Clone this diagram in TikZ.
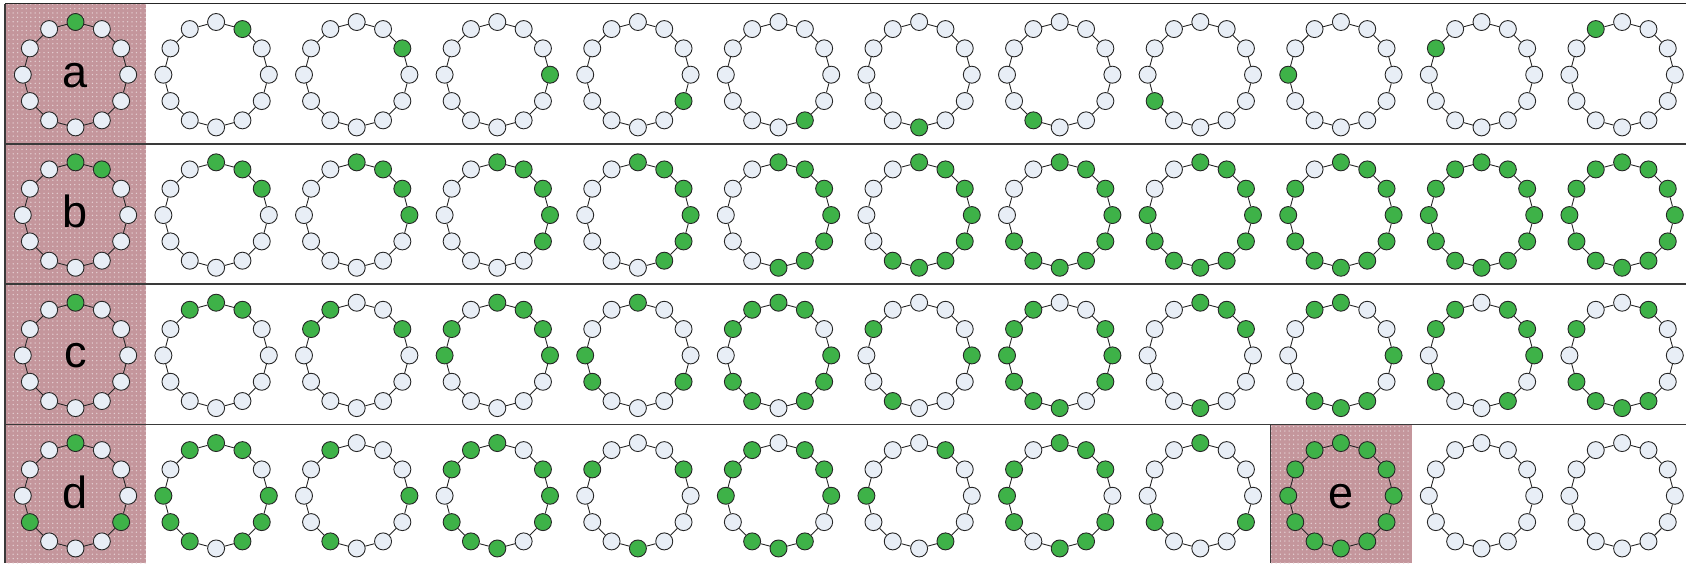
\documentclass[tikz,border=0pt]{standalone}
\usepackage{fontspec}
\setmainfont{Liberation Sans}
\usetikzlibrary{patterns.meta}
\definecolor{pinkbg}{RGB}{196,150,156}
\definecolor{pinkdot}{RGB}{228,208,211}
\definecolor{nodefill}{RGB}{232,238,246}
\definecolor{greenfill}{RGB}{62,178,72}
\definecolor{gridline}{RGB}{58,58,58}
\tikzdeclarepattern{
  name=pinkdots,
  type=uncolored,
  bounding box={(-2.2pt,-2.2pt) and (2.2pt,2.2pt)},
  tile size={(4.4pt,4.4pt)},
  code={\fill (0pt,0pt) circle[radius=0.75pt];}
}
\newcommand\ringcell[4]{%
  \pgfmathsetmacro\cx{75.5+140.6*(#2-1)}%
  \pgfmathsetmacro\cy{74.7+140.35*(#1-1)}%
  \def\greens{#3}%
  \foreach \k in {0,...,11}{%
    \gdef\ncls{whitenode}%
    \foreach \g in \greens {\ifnum\g=\k\relax\gdef\ncls{greennode}\fi}%
    \pgfmathsetmacro\ang{-90+30*\k}%
    \path (\cx,\cy) ++(\ang:52.7) node[\ncls] (n-#1-#2-\k) {};
  }%
  \foreach \k [evaluate=\k as \kn using {int(mod(\k+1,12))}] in {0,...,11}{%
    \draw[ringedge] (n-#1-#2-\k) -- (n-#1-#2-\kn);
  }%
  \ifx\relax#4\relax\else
    \node[letter] (lab-#1-#2) at (\cx,\cy+12.3) {#4};
  \fi
}
\begin{document}
\begin{tikzpicture}[x=1pt,y=-1pt,
  ringnode/.style={circle,draw=black!85,line width=0.9pt,minimum size=17pt,inner sep=0pt},
  whitenode/.style={ringnode,fill=nodefill},
  greennode/.style={ringnode,fill=greenfill},
  ringedge/.style={draw=black!85,line width=0.9pt},
  pinkcell/.style={fill=pinkbg,postaction={pattern=pinkdots,pattern color=pinkdot}},
  gridrule/.style={draw=gridline,line width=1.5pt},
  letter/.style={font=\fontsize{45}{50}\selectfont,text=black,anchor=base,inner sep=0pt}
]
\useasboundingbox (0,0) rectangle (1686,563);
% pink cells
\path[pinkcell] (5,3.5) rectangle (146.2,144);
\path[pinkcell] (5,144) rectangle (146.2,284);
\path[pinkcell] (5,284) rectangle (146.2,424.3);
\path[pinkcell] (5,424.3) rectangle (146.2,563);
\path[pinkcell] (1270.5,424.3) rectangle (1411.6,563);
% grid rules
\draw[gridrule,draw=black!85] (5,3.5) -- (1686,3.5);
\draw[gridrule] (5,144) -- (1686,144);
\draw[gridrule] (5,284) -- (1686,284);
\draw[gridrule] (5,424.3) -- (1686,424.3);
\draw[gridrule] (5,3.5) -- (5,563);
\draw[gridrule] (1270.5,424.3) -- (1270.5,563);
% row 1
\ringcell{1}{1}{0}{a}
\ringcell{1}{2}{1}{}
\ringcell{1}{3}{2}{}
\ringcell{1}{4}{3}{}
\ringcell{1}{5}{4}{}
\ringcell{1}{6}{5}{}
\ringcell{1}{7}{6}{}
\ringcell{1}{8}{7}{}
\ringcell{1}{9}{8}{}
\ringcell{1}{10}{9}{}
\ringcell{1}{11}{10}{}
\ringcell{1}{12}{11}{}
% row 2
\ringcell{2}{1}{0,1}{b}
\ringcell{2}{2}{0,1,2}{}
\ringcell{2}{3}{0,1,2,3}{}
\ringcell{2}{4}{0,1,2,3,4}{}
\ringcell{2}{5}{0,1,2,3,4,5}{}
\ringcell{2}{6}{0,1,2,3,4,5,6}{}
\ringcell{2}{7}{0,1,2,3,4,5,6,7}{}
\ringcell{2}{8}{0,1,2,3,4,5,6,7,8}{}
\ringcell{2}{9}{0,1,2,3,4,5,6,7,8,9}{}
\ringcell{2}{10}{0,1,2,3,4,5,6,7,8,9,10}{}
\ringcell{2}{11}{0,1,2,3,4,5,6,7,8,9,10,11}{}
\ringcell{2}{12}{0,1,2,3,4,5,6,7,8,9,10,11}{}
% row 3
\ringcell{3}{1}{0}{c}
\ringcell{3}{2}{11,0,1}{}
\ringcell{3}{3}{10,11,2}{}
\ringcell{3}{4}{0,1,2,3,9,10}{}
\ringcell{3}{5}{0,4,8,9}{}
\ringcell{3}{6}{0,1,3,4,5,7,8,10,11}{}
\ringcell{3}{7}{3,7,10}{}
\ringcell{3}{8}{2,3,4,6,7,8,9,10,11}{}
\ringcell{3}{9}{0,1,2,6}{}
\ringcell{3}{10}{0,3,5,6,7,11}{}
\ringcell{3}{11}{1,2,3,5,8,10,11}{}
\ringcell{3}{12}{1,5,6,7,8,10}{}
% row 4
\ringcell{4}{1}{0,4,8}{d}
\ringcell{4}{2}{0,1,3,4,5,7,8,9,11}{}
\ringcell{4}{3}{3,7,11}{}
\ringcell{4}{4}{0,2,3,4,6,7,8,10,11}{}
\ringcell{4}{5}{2,6,10}{}
\ringcell{4}{6}{1,2,3,5,6,7,9,10,11}{}
\ringcell{4}{7}{1,5,9}{}
\ringcell{4}{8}{0,1,2,4,5,6,8,9,10}{}
\ringcell{4}{9}{0,4,8}{}
\ringcell{4}{10}{0,1,2,3,4,5,6,7,8,9,10,11}{e}
\ringcell{4}{11}{-1}{}
\ringcell{4}{12}{-1}{}
\end{tikzpicture}
\end{document}
